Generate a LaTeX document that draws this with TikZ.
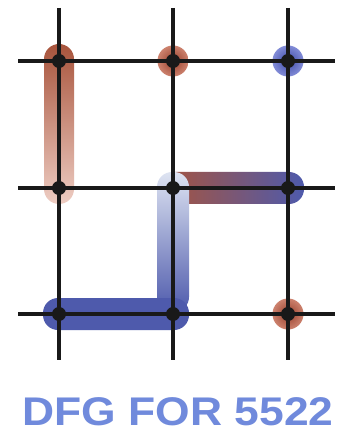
\documentclass[tikz,border=0pt]{standalone}
\usepackage{fontspec}
\setmainfont{Liberation Sans}
\begin{document}
\begin{tikzpicture}[x=1pt,y=-1pt,
  gridline/.style={line width=3.2pt,black!90},
  dot/.style={circle,fill=black!90,inner sep=0pt,minimum size=14pt},
  redball/.style={circle,inner sep=0pt,minimum size=31pt,shading=radial,inner color=redA,outer color=redB},
  blueball/.style={circle,inner sep=0pt,minimum size=31pt,shading=radial,inner color=blueA,outer color=blueB},
  title/.style={font=\bfseries\fontsize{40}{40}\selectfont,text=titleblue,xscale=1.11,inner sep=0pt}]
\definecolor{redA}{RGB}{150,62,42}
\definecolor{redB}{RGB}{205,130,110}
\definecolor{blueA}{RGB}{60,72,165}
\definecolor{blueB}{RGB}{130,140,215}
\definecolor{titleblue}{RGB}{112,138,220}
\definecolor{barred}{RGB}{168,84,60}
\definecolor{barpink}{RGB}{238,205,195}
\definecolor{barblue}{RGB}{78,90,172}
\definecolor{lblue}{RGB}{222,228,242}
\useasboundingbox (0,0) rectangle (340,435);
\fill[white] (0,0) rectangle (340,435);
% highlights
\shade[top color=barred,bottom color=barpink,rounded corners=15pt] (44,44) rectangle (74,204);
\shade[left color=barred,right color=barblue,rounded corners=15pt] (160,172) rectangle (304,204);
\shade[top color=lblue,bottom color=barblue,rounded corners=15pt] (157,172) rectangle (189,312);
\fill[barblue,rounded corners=15pt] (43,298) rectangle (189,330);
\node[redball] (b1) at (173,61) {};
\node[blueball] (b2) at (288,61) {};
\node[redball] (b3) at (288,314) {};
% grid ends
\coordinate (t1) at (59,8); \coordinate (t2) at (173,8); \coordinate (t3) at (288,8);
\coordinate (u1) at (59,360); \coordinate (u2) at (173,360); \coordinate (u3) at (288,360);
\coordinate (l1) at (18,61); \coordinate (l2) at (18,188); \coordinate (l3) at (18,314);
\coordinate (r1) at (335,61); \coordinate (r2) at (335,188); \coordinate (r3) at (335,314);
\draw[gridline] (t1) -- (u1);
\draw[gridline] (t2) -- (u2);
\draw[gridline] (t3) -- (u3);
\draw[gridline] (l1) -- (r1);
\draw[gridline] (l2) -- (r2);
\draw[gridline] (l3) -- (r3);
\foreach \i/\x in {1/59,2/173,3/288}{
  \foreach \j/\y in {1/61,2/188,3/314}{
    \node[dot] (n\i\j) at (\x,\y) {};
  }
}
\node[title] (t) at (178,412) {DFG FOR 5522};
\end{tikzpicture}
\end{document}
